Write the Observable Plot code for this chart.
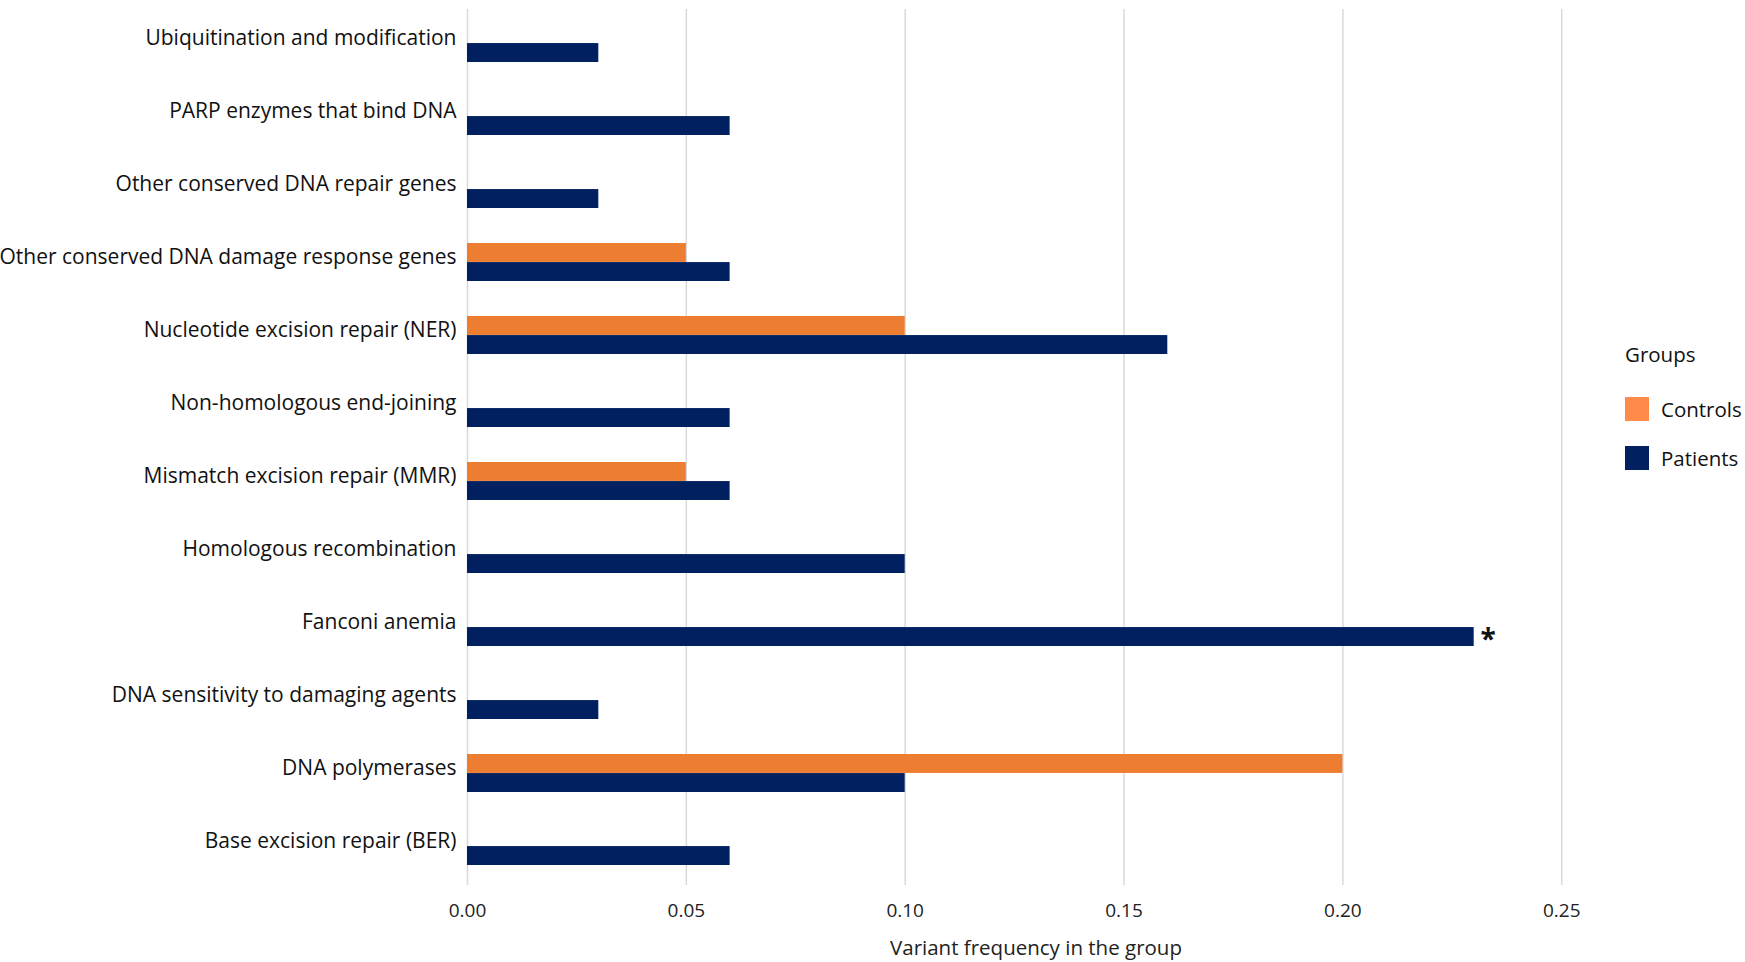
<!DOCTYPE html>
<html><head><meta charset="utf-8">
<script src="https://cdn.jsdelivr.net/npm/d3@7"></script>
<script src="https://cdn.jsdelivr.net/npm/@observablehq/plot@0.6"></script>
<style>
body{margin:0;background:#fff;font-family:"Open Sans",sans-serif;}
#wrap{position:relative;width:1745px;height:962px;overflow:hidden;}
#legend{position:absolute;left:1625px;top:340px;color:#111;font-size:20.5px;}
#legend .title{height:28px;line-height:28px;margin-bottom:29px;}
#legend .item{display:flex;align-items:center;height:24px;margin-bottom:25px;}
#legend .sw{width:24px;height:24px;margin-right:12px;}
#xtitle{position:absolute;left:467px;width:1138px;top:933px;height:28px;line-height:28px;text-align:center;font-size:20.5px;color:#222;}
</style></head><body><div id="wrap"></div>
<script>
const categories = [
  "Ubiquitination and modification",
  "PARP enzymes that bind DNA",
  "Other conserved DNA repair genes",
  "Other conserved DNA damage response genes",
  "Nucleotide excision repair (NER)",
  "Non-homologous end-joining",
  "Mismatch excision repair (MMR)",
  "Homologous recombination",
  "Fanconi anemia",
  "DNA sensitivity to damaging agents",
  "DNA polymerases",
  "Base excision repair (BER)"
];
const controls = [0, 0, 0, 0.05, 0.10, 0, 0.05, 0, 0, 0, 0.20, 0];
const patients = [0.03, 0.06, 0.03, 0.06, 0.16, 0.06, 0.06, 0.10, 0.23, 0.03, 0.10, 0.06];
const significant = ["Fanconi anemia"];
const groups = ["Controls", "Patients"];
const groupColors = ["#ED7D31", "#002060"];
const legendColors = ["#FF8A4A", "#002060"];
const xTicks = [0, 0.05, 0.10, 0.15, 0.20, 0.25];
const xTitle = "Variant frequency in the group";
const legendTitle = "Groups";

const rows = categories.flatMap((c, i) => [
  {category: c, group: "Controls", value: controls[i]},
  {category: c, group: "Patients", value: patients[i]}
]);

const W = 1745, H = 962, mT = 9, mB = 77, mL = 467, mR = 140;
const pIn = 0.48, pOut = 0.2115, yAlign = 0.42;
const bw = d3.scaleBand().domain(categories).range([mT, H - mB]).paddingInner(pIn).paddingOuter(pOut).align(yAlign).bandwidth();

const chart = Plot.plot({
  width: W, height: H,
  marginTop: mT, marginBottom: mB, marginLeft: mL, marginRight: mR,
  style: {fontFamily: "Open Sans, sans-serif", color: "#222", background: "#fff"},
  x: {domain: [0, 0.26], ticks: xTicks, tickFormat: d3.format(".2f"), label: null, tickSize: 0, tickPadding: 18},
  y: {domain: categories, paddingInner: pIn, paddingOuter: pOut, align: yAlign, tickSize: 0, tickPadding: 11, label: null},
  color: {domain: groups, range: groupColors},
  marks: [
    Plot.gridX(xTicks, {stroke: "#d9d9d9", strokeOpacity: 1, strokeWidth: 1.5}),
    Plot.barX(rows.filter(d => d.group === "Controls" && d.value > 0),
      {x: "value", y: "category", fill: "group", insetBottom: bw / 2}),
    Plot.barX(rows.filter(d => d.group === "Patients" && d.value > 0),
      {x: "value", y: "category", fill: "group", insetTop: bw / 2}),
    Plot.text(rows.filter(d => d.group === "Patients" && significant.includes(d.category)),
      {x: "value", y: "category", text: () => "*", dx: 14, dy: bw / 4 + 3, fontSize: 28, fontWeight: "bold", fill: "#111"})
  ]
});

d3.select(chart).select("g[aria-label='x-axis tick label']").attr("font-size", 19).attr("fill", "#222");
d3.select(chart).select("g[aria-label='y-axis tick label']").attr("font-size", 21).attr("fill", "#111")
  .selectAll("text").attr("dy", "0.32em").attr("y", -5);

const wrap = document.getElementById("wrap");
wrap.appendChild(chart);

const xt = document.createElement("div");
xt.id = "xtitle";
xt.textContent = xTitle;
wrap.appendChild(xt);

const legend = document.createElement("div");
legend.id = "legend";
legend.innerHTML = `<div class="title">${legendTitle}</div>` +
  groups.map((g, i) => `<div class="item"><span class="sw" style="background:${legendColors[i]}"></span><span>${g}</span></div>`).join("");
wrap.appendChild(legend);
</script>
</body></html>
